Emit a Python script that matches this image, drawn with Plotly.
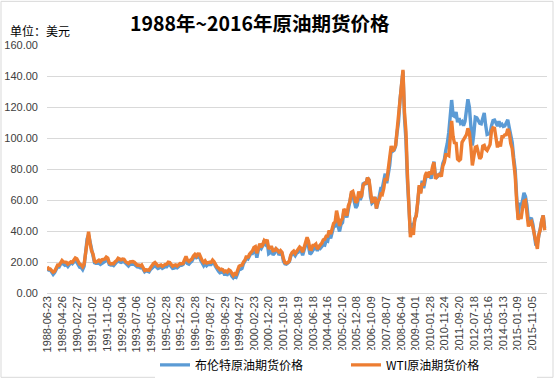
import pandas as pd
import plotly.graph_objects as go

# Monthly readings (USD/bbl), Jun 1988 .. Jul 2016
wti = [
    17.0, 15.5, 15.5, 14.5, 13.5, 14.0, 16.3,
    18.0, 17.9, 19.4, 21.0, 20.0, 20.1, 19.8, 18.6, 19.6, 20.1, 19.8, 21.1,
    22.6, 22.1, 20.4, 18.6, 18.2, 16.9, 18.6, 27.2, 34.5, 39.5, 32.3, 27.3,
    25.2, 20.5, 19.9, 20.8, 21.2, 20.2, 21.4, 21.7, 21.9, 23.2, 22.5, 19.5,
    18.8, 19.0, 18.9, 20.2, 20.9, 22.4, 21.8, 21.4, 21.9, 21.7, 20.3, 19.4,
    19.0, 20.1, 20.3, 20.3, 19.9, 19.1, 17.9, 18.0, 17.5, 18.1, 16.7, 14.5,
    15.0, 14.8, 14.7, 16.4, 17.9, 19.1, 19.7, 18.4, 17.5, 17.7, 18.1, 17.2,
    18.0, 18.5, 18.6, 19.9, 19.7, 18.4, 17.3, 17.9, 18.2, 17.4, 18.0, 19.0,
    18.9, 19.1, 21.4, 23.6, 21.2, 20.4, 21.3, 21.9, 23.9, 24.9, 23.7, 25.2,
    25.1, 22.2, 20.9, 19.7, 20.8, 19.3, 19.7, 19.9, 19.8, 21.3, 20.2, 18.3,
    16.7, 16.1, 15.0, 15.4, 14.9, 13.7, 14.2, 13.5, 15.0, 14.4, 12.9, 11.3,
    12.5, 12.0, 14.7, 17.3, 17.8, 17.9, 20.1, 21.3, 23.9, 22.6, 25.0, 26.1,
    27.2, 29.4, 29.9, 25.7, 28.8, 31.8, 29.7, 31.2, 33.9, 33.1, 34.4, 28.4,
    29.6, 29.6, 27.2, 27.4, 28.6, 27.6, 26.4, 27.4, 26.2, 22.2, 19.6, 19.3,
    19.7, 20.7, 24.5, 26.2, 27.0, 25.5, 26.9, 28.4, 29.7, 28.9, 26.3, 29.4,
    33.0, 35.9, 33.6, 28.3, 28.1, 30.7, 30.8, 31.6, 28.3, 30.3, 31.1, 32.1,
    34.3, 34.7, 36.7, 36.7, 40.3, 38.0, 40.8, 44.9, 45.9, 53.1, 48.5, 43.2,
    46.8, 48.1, 54.2, 53.0, 49.8, 56.3, 58.7, 65.0, 65.6, 62.4, 58.3, 59.4,
    65.5, 61.6, 62.7, 69.4, 70.8, 70.9, 74.4, 73.0, 63.8, 58.9, 59.1, 62.0,
    54.5, 59.3, 60.4, 63.9, 63.5, 67.5, 74.1, 72.4, 79.9, 85.8, 94.8, 91.7,
    93.0, 95.4, 105.5, 112.6, 125.4, 134.0, 144.0, 116.7, 104.1, 76.6, 57.3, 36.0,
    41.7, 37.5, 47.9, 49.7, 59.0, 69.6, 64.2, 71.0, 69.4, 75.7, 78.0, 74.5,
    78.3, 76.4, 81.2, 84.3, 73.7, 75.3, 76.3, 76.6, 75.2, 81.9, 84.3, 89.2,
    89.2, 88.6, 102.9, 111.0, 100.9, 96.3, 97.3, 86.3, 85.5, 86.3, 97.2, 98.6,
    100.3, 102.2, 106.2, 103.3, 94.7, 82.3, 87.9, 94.1, 94.5, 89.5, 86.5, 87.9,
    94.8, 95.3, 92.9, 92.0, 94.5, 95.8, 104.6, 106.6, 106.3, 100.5, 93.9, 97.6,
    94.6, 100.8, 100.8, 102.1, 102.2, 105.8, 103.6, 96.5, 93.2, 84.4, 75.8, 59.3,
    47.2, 50.6, 47.8, 54.5, 59.3, 59.8, 50.9, 42.9, 45.5, 46.2, 42.4, 37.2,
    31.7, 28.5, 37.5, 40.8, 46.7, 50.0, 40.5,
]

brent = [
    15.5, 14.8, 14.9, 13.2, 12.0, 13.2, 15.5,
    16.9, 16.8, 18.6, 20.3, 18.6, 17.9, 18.3, 17.1, 18.4, 19.6, 18.9, 20.0,
    21.0, 19.7, 18.4, 16.6, 16.4, 15.1, 17.2, 27.2, 34.9, 37.5, 32.8, 27.3,
    23.6, 19.5, 19.1, 19.2, 19.2, 18.5, 19.4, 19.7, 20.3, 21.9, 21.3, 18.4,
    18.1, 18.2, 17.7, 19.1, 19.8, 21.0, 20.1, 19.7, 20.2, 20.2, 19.3, 18.3,
    17.4, 18.5, 18.8, 18.7, 18.5, 17.6, 16.9, 16.8, 16.3, 16.9, 15.5, 13.7,
    14.4, 13.8, 13.6, 15.2, 16.1, 16.8, 17.7, 16.8, 15.8, 16.2, 17.1, 15.9,
    16.6, 17.1, 17.0, 18.4, 18.2, 16.9, 15.9, 16.0, 16.5, 16.2, 17.0, 17.9,
    17.9, 18.4, 19.9, 21.3, 19.1, 18.6, 19.7, 20.5, 22.6, 24.0, 22.8, 23.5,
    23.6, 20.9, 19.2, 17.6, 19.0, 17.6, 18.5, 18.6, 18.4, 19.8, 19.1, 17.1,
    15.3, 14.1, 13.1, 13.4, 14.3, 12.1, 12.1, 11.9, 13.4, 12.8, 11.0, 9.8,
    11.1, 10.3, 12.5, 15.3, 15.3, 15.9, 19.0, 20.3, 22.5, 22.0, 24.6, 25.6,
    25.5, 27.8, 27.5, 22.8, 27.6, 29.8, 28.7, 30.6, 33.9, 31.5, 32.6, 25.3,
    25.9, 27.5, 24.5, 25.7, 28.4, 27.7, 24.5, 25.7, 25.6, 20.5, 18.9, 18.6,
    19.4, 20.3, 23.7, 25.7, 25.4, 24.1, 25.7, 26.3, 28.4, 27.5, 24.3, 28.0,
    30.8, 32.8, 30.3, 25.0, 25.8, 27.6, 28.4, 29.8, 27.1, 29.6, 28.8, 29.8,
    31.2, 30.9, 33.8, 33.4, 37.9, 35.2, 38.2, 42.7, 43.2, 49.8, 43.1, 39.7,
    44.3, 45.5, 53.1, 51.9, 48.7, 54.3, 57.5, 64.0, 62.9, 58.5, 55.0, 56.5,
    62.5, 60.0, 62.3, 70.4, 70.9, 69.9, 74.4, 73.0, 61.9, 57.9, 58.8, 62.0,
    54.5, 58.0, 62.1, 67.5, 67.5, 71.3, 77.0, 70.8, 77.1, 82.3, 92.5, 91.5,
    92.2, 94.9, 103.3, 110.4, 124.6, 133.5, 143.0, 113.2, 98.1, 72.3, 53.2, 38.5,
    44.9, 43.2, 47.0, 50.6, 57.9, 68.6, 64.9, 72.5, 67.7, 73.2, 77.0, 74.7,
    76.2, 73.8, 78.8, 84.8, 75.9, 74.8, 75.6, 77.1, 78.2, 83.5, 86.1, 92.0,
    96.5, 103.7, 114.6, 124.5, 114.5, 113.9, 116.7, 110.2, 112.8, 109.6, 110.5, 107.9,
    110.7, 119.3, 125.0, 119.8, 110.3, 95.2, 102.6, 113.4, 113.0, 111.5, 109.5, 109.2,
    112.3, 116.1, 108.5, 102.3, 102.6, 102.9, 107.9, 111.3, 111.6, 109.1, 107.8, 110.8,
    108.1, 108.9, 107.5, 107.8, 109.5, 111.8, 106.8, 101.6, 97.1, 87.4, 79.4, 62.3,
    48.1, 58.1, 55.9, 59.5, 64.6, 62.3, 56.6, 46.5, 47.6, 48.4, 44.3, 38.0,
    30.7, 32.2, 38.2, 41.6, 46.7, 50.0, 42.0,
]

dates = pd.date_range("1988-06-01", periods=len(wti), freq="MS") + pd.Timedelta(days=14)

tick_labels = [
    "1988-06-23", "1989-04-26", "1990-02-27", "1991-01-02", "1991-11-05",
    "1992-09-04", "1993-07-06", "1994-05-02", "1995-02-28", "1995-12-29",
    "1996-10-28", "1997-08-27", "1998-06-29", "1999-04-27", "2000-02-23",
    "2000-12-20", "2001-10-19", "2002-08-19", "2003-06-18", "2004-04-16",
    "2005-02-10", "2005-12-08", "2006-10-09", "2007-08-07", "2008-06-04",
    "2009-04-01", "2010-01-28", "2010-11-24", "2011-09-20", "2012-07-18",
    "2013-05-16", "2014-03-13", "2015-01-09", "2015-11-05",
]
y_ticks = [0, 20, 40, 60, 80, 100, 120, 140, 160]

fig = go.Figure()
fig.add_trace(go.Scatter(x=dates, y=brent, mode="lines", name="布伦特原油期货价格",
                         line=dict(color="#5b9bd5", width=3.4)))
fig.add_trace(go.Scatter(x=dates, y=wti, mode="lines", name="WTI原油期货价格",
                         line=dict(color="#ed7d31", width=3.4)))

font_cjk = "Noto Sans CJK SC"
fig.update_layout(
    width=555, height=380,
    margin=dict(l=47, r=8, t=45, b=87, autoexpand=False),
    paper_bgcolor="white", plot_bgcolor="white",
    font=dict(family="Liberation Sans, " + font_cjk, color="#404040", size=11),
    showlegend=True,
    legend=dict(orientation="h", x=0.216, xanchor="left", y=-0.29, yanchor="middle",
                font=dict(family=font_cjk, size=12, color="#000000"),
                itemwidth=30, tracegroupgap=0,
                entrywidth=146, entrywidthmode="pixels"),
    xaxis=dict(type="date", range=["1988-06-10", "2016-09-01"],
               tickmode="array", tickvals=tick_labels, ticktext=tick_labels,
               tickangle=-90, showgrid=False, showline=False, zeroline=False,
               ticks="", automargin=False, tickfont=dict(size=11, color="#404040")),
    yaxis=dict(range=[0, 160], tickmode="array", tickvals=y_ticks,
               ticktext=[f"{v:.2f}" for v in y_ticks],
               showgrid=True, gridcolor="#d9d9d9", gridwidth=1,
               zeroline=True, zerolinecolor="#d9d9d9", zerolinewidth=1,
               showline=False, ticks="", ticklabelstandoff=8, automargin=False,
               tickfont=dict(size=11, color="#404040")),
    annotations=[
        dict(text="<b>1988年~2016年原油期货价格</b>", xref="paper", yref="paper",
             x=0.426, y=1.09, xanchor="center", yanchor="middle", showarrow=False,
             font=dict(family=font_cjk, size=19.5, color="#000000")),
        dict(text="单位：美元", xref="paper", yref="paper",
             x=-0.078, y=1.06, xanchor="left", yanchor="middle",
             showarrow=False,
             font=dict(family=font_cjk, size=12, color="#000000")),
    ],
    shapes=[dict(type="rect", xref="paper", yref="paper",
                 x0=-0.092, x1=1.012, y0=-0.34, y1=1.176,
                 line=dict(color="#d9d9d9", width=1), fillcolor="rgba(0,0,0,0)",
                 layer="below")],
)

fig.write_html("out.html", config={"displayModeBar": False},
               post_script="document.body.style.margin='0';document.body.style.overflow='hidden';")
